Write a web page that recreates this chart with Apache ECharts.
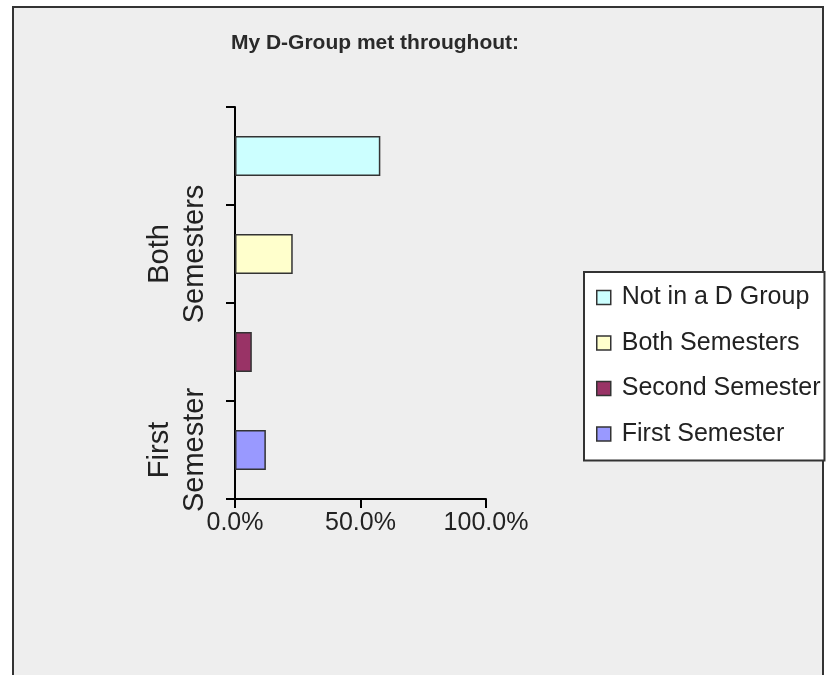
<!DOCTYPE html>
<html>
<head>
<meta charset="utf-8">
<title>My D-Group met throughout</title>
<script src="https://cdn.jsdelivr.net/npm/echarts@6/dist/echarts.min.js"></script>
<style>
  html, body { margin: 0; padding: 0; background: #fff; }
  #chart { width: 835px; height: 675px; }
</style>
</head>
<body>
<div id="chart"></div>
<script>
// categories bottom -> top, as in the y axis
const categories = ['First Semester', 'Second Semester', 'Both Semesters', 'Not in a D Group']
const shares = [0.123, 0.067, 0.230, 0.579]
const barColors = ['#9999ff', '#993366', '#ffffcc', '#ccffff']
const legendOrder = ['Not in a D Group', 'Both Semesters', 'Second Semester', 'First Semester']
const xTicks = [0, 0.5, 1]

const fontFamily = '"Liberation Sans", Arial, sans-serif'
const chart = echarts.init(document.getElementById('chart'))

// one series per category so each gets its own legend entry
const seriesArr = categories.map((name, index) => ({
  name: name,
  type: 'bar',
  stack: 'all',
  barWidth: 40,
  silent: true,
  itemStyle: {
    color: barColors[index],
    borderColor: '#333',
    borderWidth: 1.5
  },
  data: categories.map((c, i) => (i === index ? shares[index] : '-'))
}))

const option = {
  animation: false,
  backgroundColor: '#fff',
  textStyle: { fontFamily: fontFamily },
  graphic: [
    {
      type: 'rect',
      z: -10,
      shape: { x: 13, y: 7, width: 810, height: 700 },
      style: { fill: '#eeeeee', stroke: '#333', lineWidth: 2 }
    }
  ],
  title: {
    text: 'My D-Group met throughout:',
    left: 370,
    top: 28,
    textAlign: 'center',
    textStyle: { fontSize: 21, fontWeight: 'bold', color: '#2a2a2a', fontFamily: fontFamily }
  },
  legend: {
    data: legendOrder,
    orient: 'vertical',
    left: 584,
    top: 272,
    padding: [13, 4, 14, 12],
    itemGap: 20.5,
    itemWidth: 14,
    itemHeight: 14,
    icon: 'rect',
    backgroundColor: '#fff',
    borderColor: '#333',
    borderWidth: 2,
    borderRadius: 0,
    selectedMode: false,
    itemStyle: { borderColor: '#333', borderWidth: 1.5 },
    textStyle: { fontSize: 25, color: '#222', lineHeight: 22, fontFamily: fontFamily, padding: [0, 0, 0, 6] }
  },
  grid: {
    left: 235,
    top: 107,
    width: 251,
    height: 392,
    containLabel: false
  },
  xAxis: {
    type: 'value',
    min: xTicks[0],
    max: xTicks[xTicks.length - 1],
    interval: xTicks[1] - xTicks[0],
    splitLine: { show: false },
    axisLine: { show: true, lineStyle: { color: '#000', width: 2 } },
    axisTick: { show: true, length: 9, lineStyle: { color: '#000', width: 2 } },
    axisLabel: {
      fontSize: 25,
      color: '#222',
      margin: 12,
      formatter: v => (v * 100).toFixed(1) + '%'
    }
  },
  yAxis: {
    type: 'category',
    data: categories,
    axisLine: { show: true, lineStyle: { color: '#000', width: 2 } },
    axisTick: { show: true, length: 9, interval: 0, lineStyle: { color: '#000', width: 2 } },
    axisLabel: {
      interval: 1,
      rotate: 90,
      fontSize: 29,
      lineHeight: 35,
      color: '#222',
      margin: 23,
      formatter: v => v.replace(' ', '\n')
    }
  },
  series: seriesArr
}

chart.setOption(option)
</script>
</body>
</html>
